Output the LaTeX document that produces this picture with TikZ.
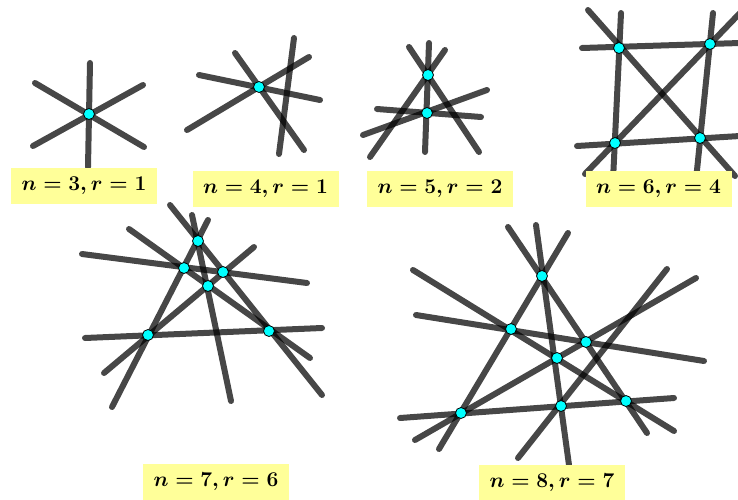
\documentclass[tikz,border=0pt]{standalone}
\usepackage{fix-cm}
\definecolor{labelyellow}{RGB}{255,255,153}
\definecolor{ptcyan}{RGB}{0,255,255}
\begin{document}
\begin{tikzpicture}[x=1pt,y=-1pt,
  ln/.style={line width=6pt,line cap=round,draw=black,opacity=0.72},
  pt/.style={circle,draw=black,fill=ptcyan,line width=0.8pt,minimum size=11pt,inner sep=0pt},
  lab/.style={fill=labelyellow,minimum width=146pt,minimum height=36pt,inner sep=0pt,
    font=\fontsize{21}{25}\selectfont\boldmath}]
  \useasboundingbox (0,0) rectangle (738,500);
  % n=3
  \foreach \xa/\ya/\xb/\yb in {90/63/88/167, 35/83/144/147, 33/146/143/85}
    \draw[ln] (\xa,\ya) -- (\xb,\yb);
  \node[pt] (a1) at (89,114) {};
  % n=4
  \foreach \xa/\ya/\xb/\yb in {199/75/320/100, 235/53/304/150, 187/130/309/57, 294/38/279/154}
    \draw[ln] (\xa,\ya) -- (\xb,\yb);
  \node[pt] (b1) at (259,87) {};
  % n=5
  \foreach \xa/\ya/\xb/\yb in {429/43/425/152, 409/47/479/152, 445/50/370/157,
      377/109/481/117, 363/135/487/90}
    \draw[ln] (\xa,\ya) -- (\xb,\yb);
  \node[pt] (c1) at (428,75) {};
  \node[pt] (c2) at (427,113) {};
  % n=6
  \foreach \xa/\ya/\xb/\yb in {582/48/740/43, 577/146/740/136, 621/13/613/180,
      713/13/696/180, 588/10/735/176, 585/174/740/13}
    \draw[ln] (\xa,\ya) -- (\xb,\yb);
  \node[pt] (d1) at (619,48) {};
  \node[pt] (d2) at (710,44) {};
  \node[pt] (d3) at (615,143) {};
  \node[pt] (d4) at (700,138) {};
  % n=7
  \foreach \xa/\ya/\xb/\yb in {170/205/322/395, 192/215/231/401, 208/220/112/407,
      82/254/307/283, 129/229/310/358, 254/247/104/373, 85/338/322/328}
    \draw[ln] (\xa,\ya) -- (\xb,\yb);
  \node[pt] (e1) at (198,241) {};
  \node[pt] (e2) at (184,268) {};
  \node[pt] (e3) at (223,272) {};
  \node[pt] (e4) at (208,286) {};
  \node[pt] (e5) at (148,335) {};
  \node[pt] (e6) at (269,331) {};
  % n=8
  \foreach \xa/\ya/\xb/\yb in {508/227/647/433, 536/225/569/465, 568/233/439/449,
      413/270/674/431, 416/315/704/361, 696/278/415/440, 667/269/518/458, 400/418/674/398}
    \draw[ln] (\xa,\ya) -- (\xb,\yb);
  \node[pt] (f1) at (542,276) {};
  \node[pt] (f2) at (511,329) {};
  \node[pt] (f3) at (586,342) {};
  \node[pt] (f4) at (557,358) {};
  \node[pt] (f5) at (461,413) {};
  \node[pt] (f6) at (561,406) {};
  \node[pt] (f7) at (626,401) {};
  % labels
  \node[lab] (l3) at (84,186) {$n=3,r=1$};
  \node[lab] (l4) at (265.5,188.5) {$n=4,r=1$};
  \node[lab] (l5) at (440,189) {$n=5,r=2$};
  \node[lab] (l6) at (658.5,189) {$n=6,r=4$};
  \node[lab] (l7) at (216,482) {$n=7,r=6$};
  \node[lab] (l8) at (552,482.5) {$n=8,r=7$};
\end{tikzpicture}
\end{document}
